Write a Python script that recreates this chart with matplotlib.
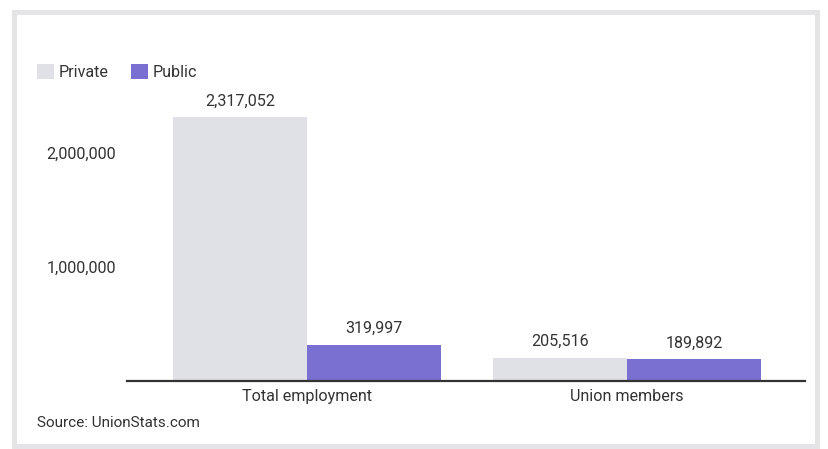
import numpy as np
import matplotlib.pyplot as plt
from matplotlib.patches import Rectangle
from matplotlib.ticker import FuncFormatter

plt.rcParams['font.family'] = ['Roboto', 'DejaVu Sans']

# ---------- data ----------
categories = ['Total employment', 'Union members']
private = [2317052, 205516]
public = [319997, 189892]
series_names = ['Private', 'Public']

c_private = '#dfe1e6'
c_public = '#7a70d1'
txt = '#333333'
fs = 11.6

fig = plt.figure(figsize=(8.29, 4.49), dpi=100)

# light gray frame around the card
fig.patches.append(Rectangle((0.017, 0.006), 0.969, 0.968, transform=fig.transFigure,
                             fill=False, edgecolor='#e4e4e6', linewidth=3.5))

ax = fig.add_axes([0.1532, 0.1514, 0.8178, 0.66])

x = np.arange(len(categories))
w = 0.42
b1 = ax.bar(x - w/2, private, w, color=c_private, label=series_names[0])
b2 = ax.bar(x + w/2, public, w, color=c_public, label=series_names[1])

for bars in (b1, b2):
    for r in bars:
        ax.annotate('{:,}'.format(int(r.get_height())),
                    (r.get_x() + r.get_width()/2, r.get_height()),
                    xytext=(0, 6), textcoords='offset points',
                    ha='center', va='bottom', fontsize=fs, color=txt)

ax.set_xlim(-0.5625, 1.556)
ax.set_ylim(0, 2600000)
ax.set_yticks([1000000, 2000000])
ax.yaxis.set_major_formatter(FuncFormatter(lambda v, p: '{:,}'.format(int(v))))
ax.set_xticks(x)
ax.set_xticklabels(categories)
ax.tick_params(axis='both', length=0, labelsize=fs, labelcolor=txt)
ax.tick_params(axis='y', pad=8)
ax.tick_params(axis='x', pad=6)

for s in ['top', 'right', 'left']:
    ax.spines[s].set_visible(False)
ax.spines['bottom'].set_color(txt)
ax.spines['bottom'].set_linewidth(1.6)

fig.legend(loc='upper left', bbox_to_anchor=(0.027, 0.89), ncol=2, frameon=False,
           fontsize=fs, handlelength=1.05, handleheight=1.05, handletextpad=0.3,
           columnspacing=1.4, labelcolor=txt)

fig.text(0.045, 0.048, 'Source: UnionStats.com', fontsize=11, color=txt)

plt.savefig('out.png', dpi=100)
